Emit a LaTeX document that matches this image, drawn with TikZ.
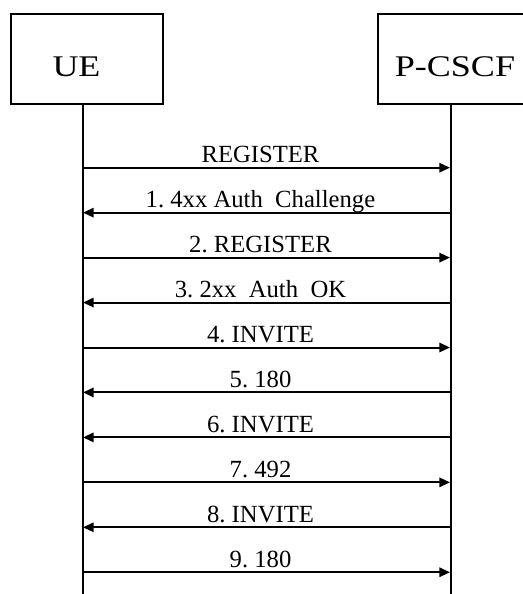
\documentclass[tikz,border=0pt]{standalone}
\usepackage{fontspec}
\setmainfont{Liberation Serif}
\newfontfamily\boxfont[FakeStretch=1.2]{Liberation Serif}
\usetikzlibrary{arrows.meta}
\frenchspacing

\begin{document}
\begin{tikzpicture}[x=0.75pt,y=-0.75pt,
        entity/.style={draw,line width=1.5pt,minimum height=67.5pt,inner sep=0pt},
        entityname/.style={anchor=base,inner sep=0pt,font=\boxfont\fontsize{22.5}{26}\selectfont},
        lifeline/.style={line width=1.6pt},
        msg/.style={line width=1.5pt,-{Triangle[length=8pt,width=7pt]}},
        msglabel/.style={midway,anchor=base,inner sep=0pt,yshift=3.75pt,xshift=-4.5pt,font=\fontsize{18.5}{20}\selectfont}]
        \useasboundingbox (0,0) rectangle (523,594);
        \clip (0,0) rectangle (523,594);
        % the two boxes
        \node[entity,minimum width=114pt] (ue) at (87,58.5) {};
        \node[entity,minimum width=110.25pt] (pcscf) at (451.5,58.5) {};
        \node[entityname] (ueName) at (76.5,76) {UE};
        \node[entityname] (pcscfName) at (455,76) {P-CSCF};
        % lifelines
        \coordinate (ueEnd) at (83,594);
        \coordinate (pcscfEnd) at (451,594);
        \draw[lifeline] (ueEnd |- ue.south) -- (ueEnd);
        \draw[lifeline] (pcscfEnd |- pcscf.south) -- (pcscfEnd);
        % one row per message
        \foreach \i in {0,...,9}{
            \pgfmathsetmacro{\y}{167.7+44.95*\i} % row height
            \coordinate (u\i) at (83,\y);
            \coordinate (p\i) at (450,\y);
        }
        \draw[msg] (u0) -- node[msglabel]{REGISTER} (p0);
        \draw[msg] (p1) -- node[msglabel]{1. 4xx Auth\ \ Challenge} (u1);
        \draw[msg] (u2) -- node[msglabel]{2. REGISTER} (p2);
        \draw[msg] (p3) -- node[msglabel]{3. 2xx\ \ Auth\ \ OK} (u3);
        \draw[msg] (u4) -- node[msglabel]{4. INVITE} (p4);
        \draw[msg] (p5) -- node[msglabel]{5. 180} (u5);
        \draw[msg] (p6) -- node[msglabel]{6. INVITE} (u6);
        \draw[msg] (u7) -- node[msglabel]{7. 492} (p7);
        \draw[msg] (p8) -- node[msglabel]{8. INVITE} (u8);
        \draw[msg] (u9) -- node[msglabel]{9. 180} (p9);
    \end{tikzpicture}
\end{document}
